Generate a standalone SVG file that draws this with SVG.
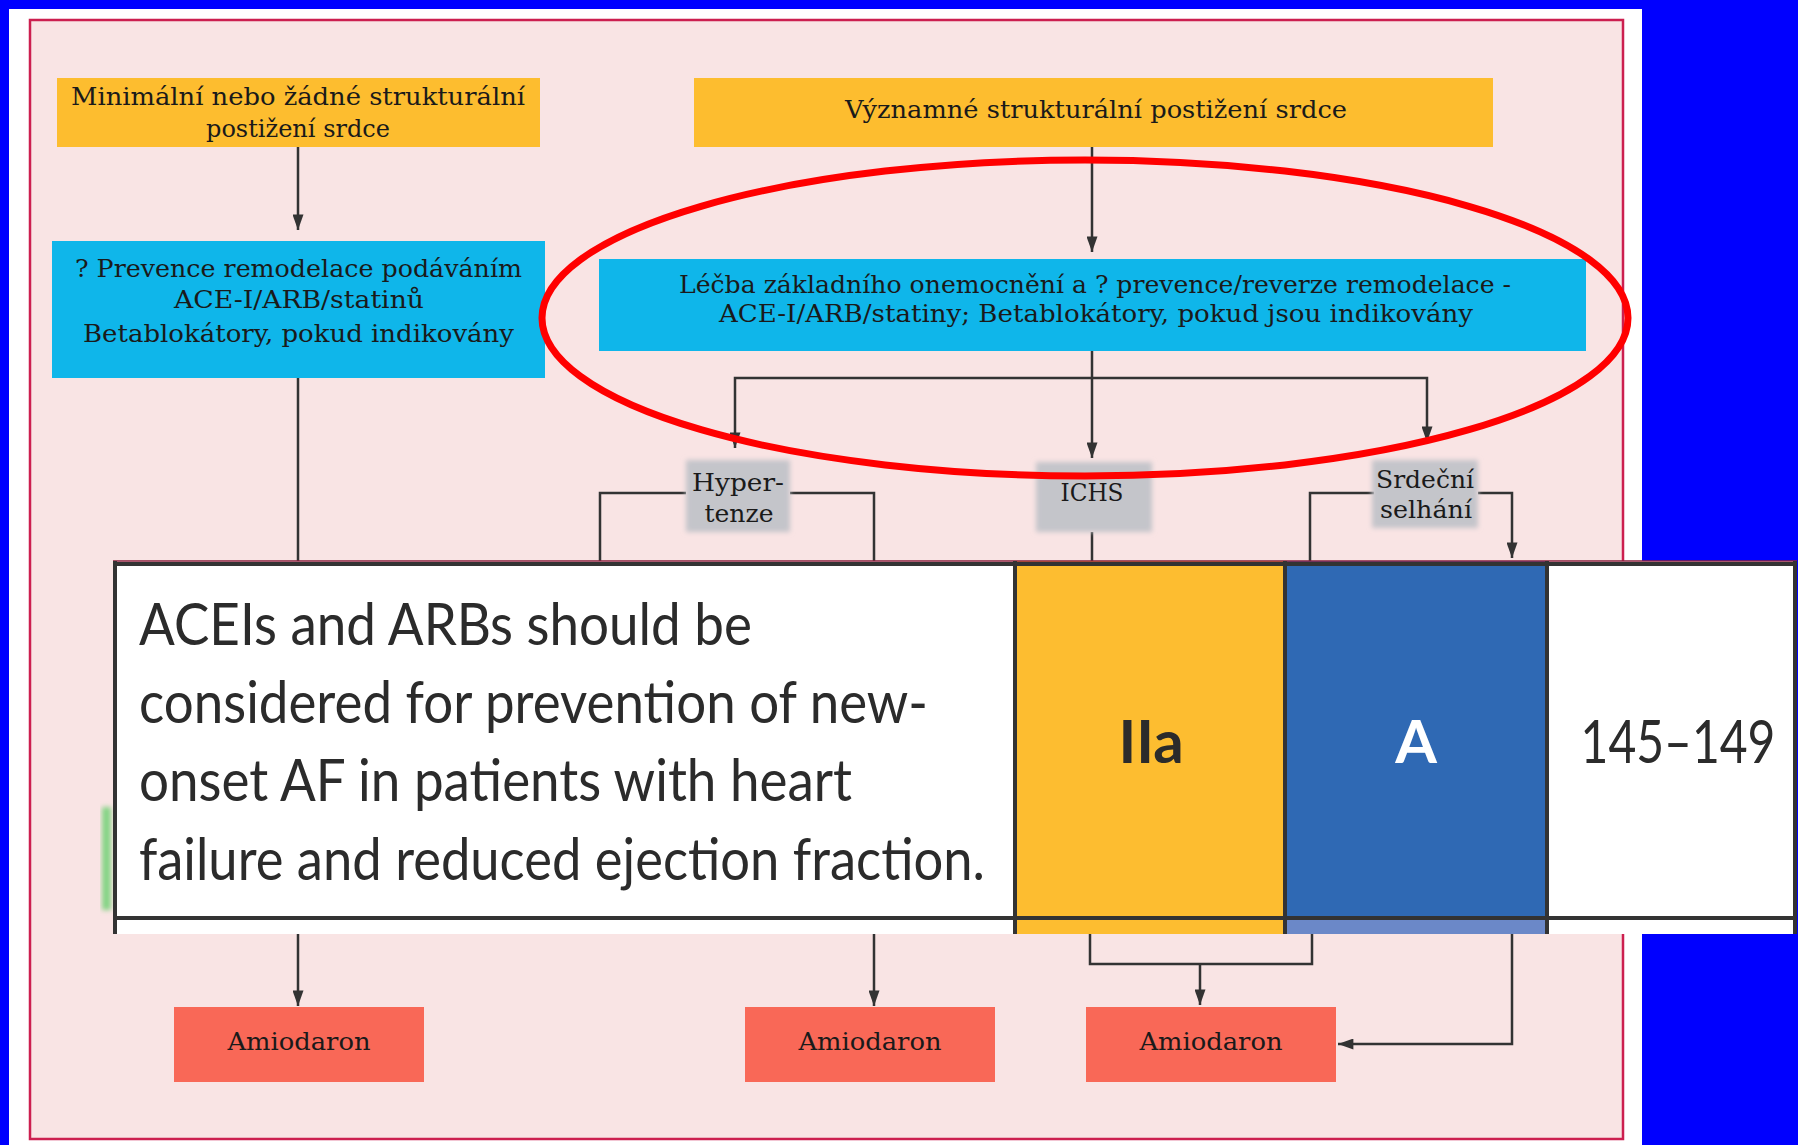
<svg xmlns="http://www.w3.org/2000/svg" width="1798" height="1145" viewBox="0 0 1798 1145">
<defs>
<style>
.nt{font-family:"DejaVu Serif","Liberation Serif",serif;font-size:24px;fill:#1a1a1a;text-anchor:middle}
.lbl{font-family:"DejaVu Serif","Liberation Serif",serif;font-size:25px;fill:#1a1a1a;text-anchor:middle}
.tt{font-family:Lato,"Open Sans","Liberation Sans",sans-serif;font-size:58px;fill:#2b2b2b}
.big{font-family:Lato,"Open Sans","Liberation Sans",sans-serif;font-size:60px;text-anchor:middle}
.con{fill:none;stroke:#333;stroke-width:2.5}
.yel{fill:#fdbd2f}
.cya{fill:#0fb6ea}
.ami{fill:#f96857}
.gry{fill:#c4c5ca}
.tb{stroke:#333;stroke-width:4;fill:none}
</style>
<marker id="ahv" viewBox="0 0 14 10" refX="14" refY="5" markerWidth="16" markerHeight="11" markerUnits="userSpaceOnUse" orient="auto">
<path d="M0,0 L14,5 L0,10 z" fill="#333"/>
</marker>
<filter id="soft" x="-20%" y="-20%" width="140%" height="140%"><feGaussianBlur stdDeviation="2.5"/></filter>
</defs>
<rect x="0" y="0" width="1798" height="1145" fill="#0000ff"/>
<rect x="9" y="9" width="1633" height="1136" fill="#ffffff"/>
<rect x="30" y="20" width="1593" height="1119" fill="#f9e4e4" stroke="#cc1f4f" stroke-width="2.5"/>

<g id="connectors">
<path class="con" d="M298,147 V230" marker-end="url(#ahv)"/>
<path class="con" d="M1092,147 V252" marker-end="url(#ahv)"/>
<path class="con" d="M1092,351 V458" marker-end="url(#ahv)"/>
<path class="con" d="M1092,378 H735 V448" marker-end="url(#ahv)"/>
<path class="con" d="M1092,378 H1427 V442" marker-end="url(#ahv)"/>
<path class="con" d="M298,378 V561"/>
<path class="con" d="M686,493 H600 V561"/>
<path class="con" d="M790,493 H874 V561"/>
<path class="con" d="M1092,532 V561"/>
<path class="con" d="M1374,493 H1310 V561"/>
<path class="con" d="M1478,493 H1512 V558" marker-end="url(#ahv)"/>
<path class="con" d="M298,934 V1006" marker-end="url(#ahv)"/>
<path class="con" d="M874,934 V1006" marker-end="url(#ahv)"/>
<path class="con" d="M1090,934 V964 H1312 V934"/>
<path class="con" d="M1200,964 V1005" marker-end="url(#ahv)"/>
<path class="con" d="M1512,934 V1044 H1338" marker-end="url(#ahv)"/>
</g>

<g id="n-minimal">
<rect class="yel" x="57" y="78" width="483" height="69"/>
<text class="nt" x="298" y="105" textLength="454" lengthAdjust="spacingAndGlyphs">Minimální nebo žádné strukturální</text>
<text class="nt" x="298" y="137" textLength="184" lengthAdjust="spacingAndGlyphs">postižení srdce</text>
</g>
<g id="n-vyznamne">
<rect class="yel" x="694" y="78" width="799" height="69"/>
<text class="nt" x="1096" y="118" textLength="502" lengthAdjust="spacingAndGlyphs">Významné strukturální postižení srdce</text>
</g>
<g id="n-prevence">
<rect class="cya" x="52" y="241" width="493" height="137"/>
<text class="nt" x="298.5" y="277" textLength="447" lengthAdjust="spacingAndGlyphs">? Prevence remodelace podáváním</text>
<text class="nt" x="299" y="308" textLength="250" lengthAdjust="spacingAndGlyphs">ACE-I/ARB/statinů</text>
<text class="nt" x="298.5" y="342" textLength="431" lengthAdjust="spacingAndGlyphs">Betablokátory, pokud indikovány</text>
</g>
<g id="n-lecba">
<rect class="cya" x="599" y="259" width="987" height="92"/>
<text class="nt" x="1095" y="293" textLength="832" lengthAdjust="spacingAndGlyphs">Léčba základního onemocnění a ? prevence/reverze remodelace -</text>
<text class="nt" x="1096" y="322" textLength="754" lengthAdjust="spacingAndGlyphs">ACE-I/ARB/statiny; Betablokátory, pokud jsou indikovány</text>
</g>
<g id="n-hypertenze">
<rect class="gry" x="686" y="460" width="104" height="72" filter="url(#soft)"/>
<text class="lbl" x="738" y="491" textLength="92" lengthAdjust="spacingAndGlyphs">Hyper-</text>
<text class="lbl" x="739" y="522" textLength="69" lengthAdjust="spacingAndGlyphs">tenze</text>
</g>
<g id="n-ichs">
<rect class="gry" x="1036" y="462" width="116" height="70" filter="url(#soft)"/>
<text class="lbl" x="1092" y="501" textLength="63" lengthAdjust="spacingAndGlyphs">ICHS</text>
</g>
<g id="n-srdecni">
<rect class="gry" x="1372" y="460" width="106" height="68" filter="url(#soft)"/>
<text class="lbl" x="1425" y="488" textLength="98" lengthAdjust="spacingAndGlyphs">Srdeční</text>
<text class="lbl" x="1426" y="518" textLength="92" lengthAdjust="spacingAndGlyphs">selhání</text>
</g>
<g id="n-ami1">
<rect class="ami" x="174" y="1007" width="250" height="75"/>
<text class="lbl" x="299" y="1050" textLength="143" lengthAdjust="spacingAndGlyphs">Amiodaron</text>
</g>
<g id="n-ami2">
<rect class="ami" x="745" y="1007" width="250" height="75"/>
<text class="lbl" x="870" y="1050" textLength="143" lengthAdjust="spacingAndGlyphs">Amiodaron</text>
</g>
<g id="n-ami3">
<rect class="ami" x="1086" y="1007" width="250" height="75"/>
<text class="lbl" x="1211" y="1050" textLength="143" lengthAdjust="spacingAndGlyphs">Amiodaron</text>
</g>

<rect x="102" y="807" width="9" height="103" fill="#84d484" filter="url(#soft)"/>

<g id="table">
<rect x="113" y="561" width="1684" height="373" fill="#ffffff"/>
<rect x="1015" y="561" width="270" height="373" fill="#fdbd30"/>
<rect x="1285" y="561" width="262" height="357" fill="#2f69b4"/>
<rect x="1285" y="918" width="262" height="16" fill="#6b88c8"/>
<line x1="113" y1="561" x2="1797" y2="561" stroke="#8a1f3c" stroke-width="1.5"/>
<line x1="113" y1="564" x2="1797" y2="564" stroke="#333" stroke-width="4"/>
<line x1="113" y1="918" x2="1797" y2="918" stroke="#333" stroke-width="4"/>
<line x1="115" y1="561" x2="115" y2="934" class="tb"/>
<line x1="1015" y1="561" x2="1015" y2="934" class="tb"/>
<line x1="1285" y1="561" x2="1285" y2="934" class="tb"/>
<line x1="1547" y1="561" x2="1547" y2="934" class="tb"/>
<line x1="1795" y1="561" x2="1795" y2="934" class="tb"/>
<text class="tt" x="139" y="645" textLength="613" lengthAdjust="spacingAndGlyphs">ACEIs and ARBs should be</text>
<text class="tt" x="139" y="723" textLength="789" lengthAdjust="spacingAndGlyphs">considered for prevention of new-</text>
<text class="tt" x="139" y="801" textLength="713" lengthAdjust="spacingAndGlyphs">onset AF in patients with heart</text>
<text class="tt" x="139" y="880" textLength="846" lengthAdjust="spacingAndGlyphs">failure and reduced ejection fraction.</text>
<text class="big" x="1151" y="763" font-weight="bold" fill="#2b2b2b">IIa</text>
<text class="big" x="1416" y="763" font-weight="bold" fill="#ffffff">A</text>
<text class="big" x="0" y="0" fill="#2b2b2b" transform="translate(1678,763) scale(0.8,1)">145–149</text>
</g>

<ellipse cx="1085" cy="318" rx="543" ry="158" fill="none" stroke="#ff0000" stroke-width="7"/>
</svg>
